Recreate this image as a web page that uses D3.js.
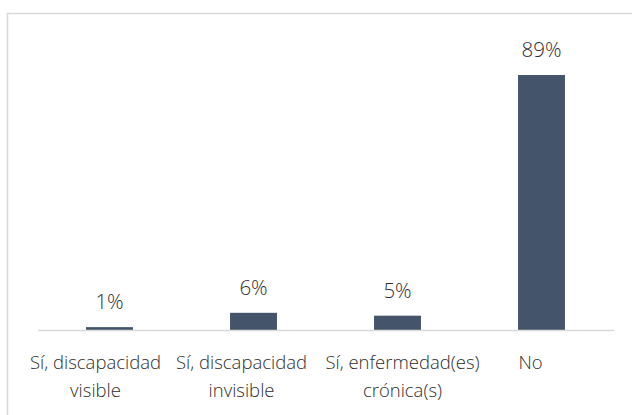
<!DOCTYPE html>
<html><head><meta charset="utf-8">
<script src="https://cdn.jsdelivr.net/npm/d3@7"></script>
<style>
body { margin: 0; background: #fff; }
text { font-family: "Open Sans", Lato, sans-serif; fill: #2e2e2e; }
</style>
</head><body><svg width="632" height="415"></svg>
<script>
// data
const categories = ["Sí, discapacidad visible", "Sí, discapacidad invisible", "Sí, enfermedad(es) crónica(s)", "No"];
const categoryLines = [["Sí, discapacidad", "visible"], ["Sí, discapacidad", "invisible"], ["Sí, enfermedad(es)", "crónica(s)"], ["No"]];
const values = [1, 6, 5, 89];

// excel does not center the wrapped labels exactly under the bars
const labelNudge = [-14, -12, 5, -11];

const width = 632;
const height = 415;
const svg = d3.select("svg");

// chart frame, runs off the right and bottom of the picture
svg.append("rect")
    .attr("x", 7.5)
    .attr("y", 13.5)
    .attr("width", 700)
    .attr("height", 500)
    .attr("fill", "none")
    .attr("stroke", "#d9d9d9")
    .attr("stroke-width", 1.5);

let x = d3.scaleBand()
    .domain(categories)
    .range([37.5, 613.5])
    .paddingInner(0.674)
    .paddingOuter(0.337);
let y = d3.scaleLinear()
    .domain([0, 100])
    .range([330, 43.5]);

svg.selectAll("rect.bar")
    .data(values)
    .join("rect")
    .classed("bar", true)
    .attr("x", (d, i) => x(categories[i]))
    .attr("y", d => y(d))
    .attr("width", x.bandwidth())
    .attr("height", d => y(0) - y(d))
    .attr("fill", "#44546a");

svg.selectAll("text.value")
    .data(values)
    .join("text")
    .classed("value", true)
    .attr("x", (d, i) => x(categories[i]) + x.bandwidth() / 2)
    .attr("y", d => y(d) - 18)
    .attr("text-anchor", "middle")
    .style("font-size", "20.5px")
    .style("font-weight", 300)
    .text(d => d + "%");

let axis = svg.append("g")
    .attr("transform", "translate(0," + y(0) + ")")
    .call(d3.axisBottom(x).tickSize(0).tickSizeOuter(0));
axis.select(".domain")
    .attr("stroke", "#d9d9d9")
    .attr("stroke-width", 1.5);
axis.selectAll(".tick text").remove();
axis.selectAll(".tick")
    .append("text")
    .attr("text-anchor", "middle")
    .style("font-size", "18.5px")
    .style("font-weight", 300)
    .each(function(d) {
        let k = categories.indexOf(d);
        d3.select(this).selectAll("tspan")
            .data(categoryLines[k])
            .join("tspan")
            .attr("x", labelNudge[k])
            .attr("y", (l, j) => 39 + j * 28)
            .text(l => l);
    });
</script></body></html>
